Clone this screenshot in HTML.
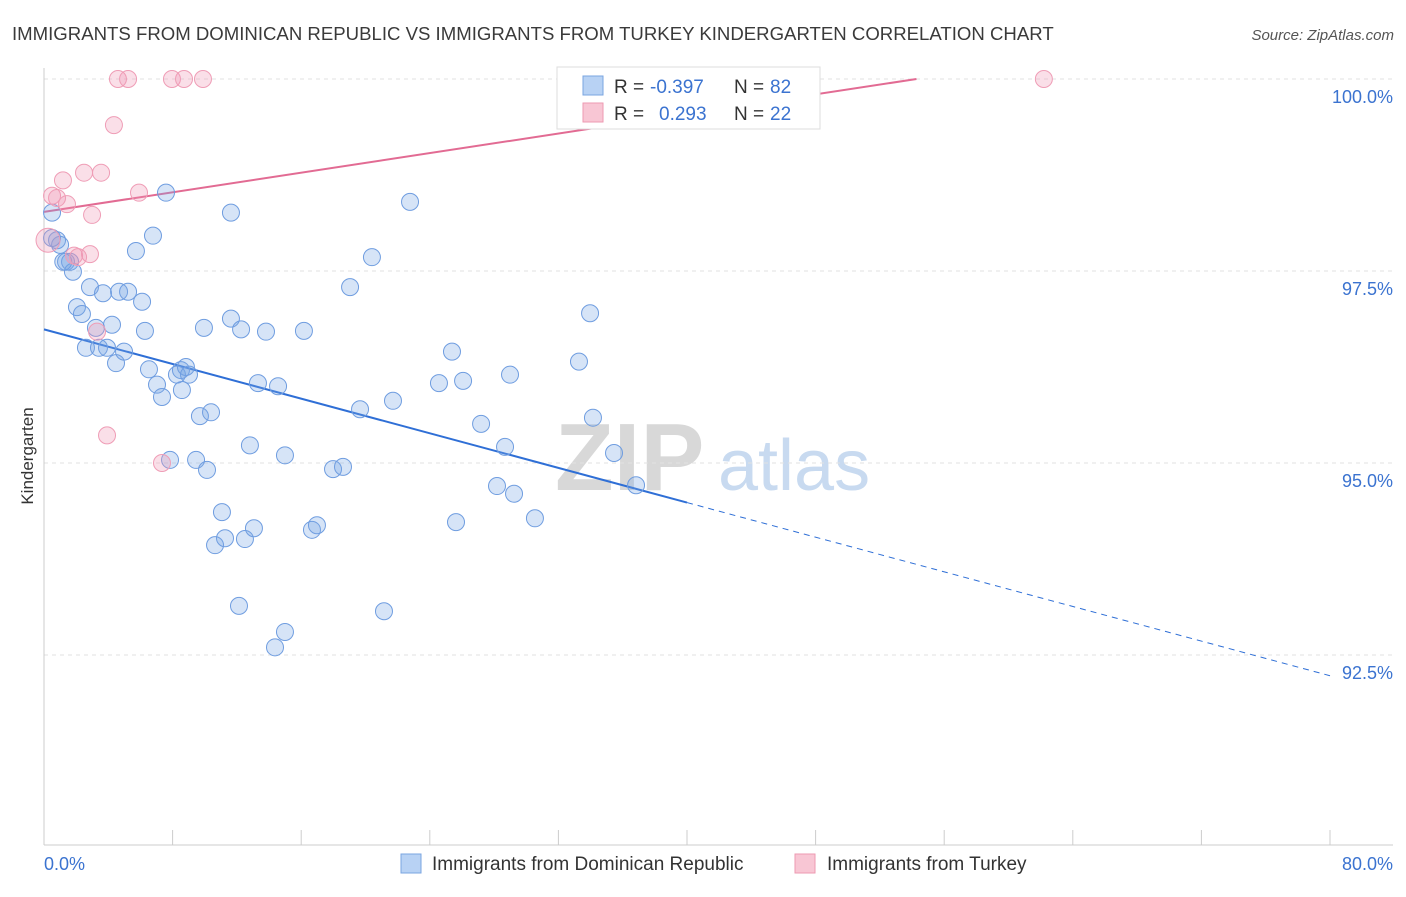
<!DOCTYPE html>
<html><head><meta charset="utf-8"><style>
body{margin:0;background:#fff;font-family:"Liberation Sans",sans-serif}
svg text{font-family:"Liberation Sans",sans-serif}
</style></head><body>
<svg id="chart" width="1406" height="892" xmlns="http://www.w3.org/2000/svg">
<text x="12" y="40" font-size="18.6" fill="#3a3a3a">IMMIGRANTS FROM DOMINICAN REPUBLIC VS IMMIGRANTS FROM TURKEY KINDERGARTEN CORRELATION CHART</text>
<text x="1394" y="40" font-size="15" fill="#555" text-anchor="end" font-style="italic">Source: ZipAtlas.com</text>
<text transform="translate(33,456) rotate(-90)" font-size="17" fill="#333" text-anchor="middle">Kindergarten</text>
<g>
<text x="555" y="490" font-size="96" fill="#d8d8d8" font-family="Liberation Serif" font-weight="bold">ZIP</text>
<text x="718" y="490" font-size="72" fill="#c8daf0">atlas</text>
</g>
<g id="grid"></g><g id="axes"></g><g id="lines"></g><g id="pts"></g>
<g>
<rect x="557" y="67" width="263" height="62" fill="#fff" stroke="#ddd"/>
<rect x="583" y="76" width="20" height="19" fill="#b8d2f4" stroke="#7aa5e0"/>
<text x="614" y="93" font-size="19" fill="#333">R =</text>
<text x="650" y="93" font-size="19" fill="#3b73d0">-0.397</text>
<text x="734" y="93" font-size="19" fill="#333">N =</text>
<text x="770" y="93" font-size="19" fill="#3b73d0">82</text>
<rect x="583" y="103" width="20" height="19" fill="#f8c6d4" stroke="#ee9ab2"/>
<text x="614" y="120" font-size="19" fill="#333">R =</text>
<text x="659" y="120" font-size="19" fill="#3b73d0">0.293</text>
<text x="734" y="120" font-size="19" fill="#333">N =</text>
<text x="770" y="120" font-size="19" fill="#3b73d0">22</text>
</g>
<g>
<rect x="401" y="854" width="20" height="19" fill="#b8d2f4" stroke="#7aa5e0"/>
<text x="432" y="870" font-size="19" fill="#333">Immigrants from Dominican Republic</text>
<rect x="795" y="854" width="20" height="19" fill="#f8c6d4" stroke="#ee9ab2"/>
<text x="827" y="870" font-size="19" fill="#333">Immigrants from Turkey</text>
</g>
</svg>
<script>
const yTicks=[100,97.5,95,92.5];
const yTickLabels=["100.0%","97.5%","95.0%","92.5%"];
const blueX=[0.50,0.81,1.00,1.37,1.62,1.80,2.05,2.36,2.86,3.23,2.61,3.42,3.67,3.92,4.23,4.48,4.67,4.98,5.23,5.72,6.10,6.28,6.53,6.78,7.03,7.34,7.59,7.84,8.27,8.58,8.52,8.83,9.02,9.46,9.70,9.95,10.14,10.39,11.07,10.64,11.26,11.63,11.63,12.13,12.26,12.50,12.81,13.06,13.31,13.81,14.56,14.37,14.99,14.99,16.17,16.67,16.98,17.98,18.60,19.04,19.66,20.40,21.15,21.71,22.77,24.57,25.38,25.63,26.07,27.19,28.18,28.68,28.99,29.24,30.54,33.28,33.97,34.15,35.46,36.83,0.50,1.2];
const blueY=[98.26,97.90,97.84,97.62,97.62,97.49,97.03,96.94,97.29,96.76,96.50,96.50,97.21,96.50,96.80,96.30,97.23,96.45,97.23,97.76,97.10,96.72,96.22,97.96,96.02,95.86,98.52,95.04,96.15,95.95,96.21,96.25,96.15,95.04,95.61,96.76,94.91,95.66,94.36,93.93,94.02,98.26,96.88,93.14,96.74,94.01,95.23,94.15,96.04,96.71,96.00,92.60,92.80,95.10,96.72,94.13,94.19,94.92,94.95,97.29,95.70,97.68,93.07,95.81,98.40,96.04,96.45,94.23,96.07,95.51,94.70,95.21,96.15,94.60,94.28,96.32,96.95,95.59,95.13,94.71,97.93,97.62];
const pinkX=[0.25,0.50,0.81,1.18,1.43,1.87,2.49,2.99,2.86,3.30,3.55,3.92,4.35,4.60,5.23,5.91,7.34,7.96,8.71,9.89,62.2,2.12];
const pinkY=[97.90,98.48,98.45,98.68,98.37,97.70,98.78,98.23,97.72,96.71,98.78,95.36,99.40,100,100,98.52,95.00,100,100,100,100,97.68];
const blueLine=[96.74,92.23]; // y at x=0 and x=80
const pinkLine=[98.27,100.82];
const NS="http://www.w3.org/2000/svg";
const X=v=>44+v*16.075, Y=v=>79+(100-v)*76.8;
function mk(p,t,a){const e=document.createElementNS(NS,t);for(const k in a)e.setAttribute(k,a[k]);document.getElementById(p).appendChild(e);return e;}
yTicks.forEach((t,i)=>{
 const g=mk('grid','line',{x1:44,x2:1393,y1:Y(t),y2:Y(t),stroke:'#e2e2e2','stroke-dasharray':'4,4'});
 
 
 const l=mk('axes','text',{x:1393,y:Y(t)+24,'font-size':18,fill:'#3b73d0','text-anchor':'end'});l.textContent=yTickLabels[i];
 
 
});
const ax=mk('axes','line',{x1:44,x2:1393,y1:845,y2:845,stroke:'#ccc'});


const ay=mk('axes','line',{x1:44,x2:44,y1:68,y2:845,stroke:'#ccc'});


for(let i=0;i<=10;i++){const t=mk('axes','line',{x1:X(i*8),x2:X(i*8),y1:830,y2:845,stroke:'#ccc'});
 
 }
[["0.0%",44,"start"],["80.0%",1393,"end"]].forEach(d=>{const t=mk('axes','text',{x:d[1],y:870,'font-size':18,fill:'#3b73d0','text-anchor':d[2]});t.textContent=d[0];
 
 });
const bl=v=>blueLine[0]+(blueLine[1]-blueLine[0])*v/80;
const pl=v=>pinkLine[0]+(pinkLine[1]-pinkLine[0])*v/80;
const l1=mk('lines','line',{x1:X(0),y1:Y(bl(0)),x2:X(40),y2:Y(bl(40)),stroke:'#2f6fd6','stroke-width':2});


const l2=mk('lines','line',{x1:X(40),y1:Y(bl(40)),x2:X(80),y2:Y(bl(80)),stroke:'#2f6fd6','stroke-width':1,'stroke-dasharray':'6,5'});


const xe=(100-pinkLine[0])/((pinkLine[1]-pinkLine[0])/80);
const l3=mk('lines','line',{x1:X(0),y1:Y(pl(0)),x2:X(xe),y2:Y(pl(xe)),stroke:'#e26b93','stroke-width':2});


blueX.forEach((v,i)=>{const c=mk('pts','circle',{cx:X(v),cy:Y(blueY[i]),r:8.5,fill:'rgba(120,165,230,0.3)',stroke:'#6f9de0','stroke-width':1});
 
 });
pinkX.forEach((v,i)=>{const c=mk('pts','circle',{cx:X(v),cy:Y(pinkY[i]),r:i==0?12:8.5,fill:'rgba(240,150,180,0.3)',stroke:'#ef9db6','stroke-width':1});
 
 });
</script>
</body></html>
